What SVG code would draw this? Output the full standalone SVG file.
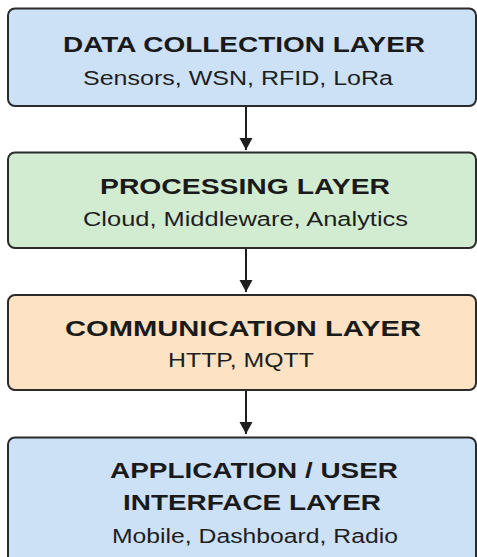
<svg xmlns="http://www.w3.org/2000/svg" width="477" height="557" viewBox="0 0 477 557">
  <defs>
    <marker id="ah" markerWidth="14" markerHeight="14" refX="12" refY="7" orient="auto" markerUnits="userSpaceOnUse">
      <path d="M0,0.5 L12,7 L0,13.5 Z" fill="#1e1e1e"/>
    </marker>
    <style>
      .box { stroke: #2b2b2b; stroke-width: 2; }
      .blue { fill: #cde1f6; }
      .green { fill: #d2ecd1; }
      .peach { fill: #fde3c3; }
      .t { font-family: "Liberation Sans", Arial, sans-serif; font-weight: bold; font-size: 22px; fill: #1a1a1a; }
      .s { font-family: "Liberation Sans", Arial, sans-serif; font-size: 20px; fill: #1e1e1e; }
      .c { stroke: #1e1e1e; stroke-width: 2; fill: none; }
    </style>
  </defs>
  <rect width="477" height="557" fill="#ffffff"/>

  <g id="connectors">
    <line class="c" x1="246" y1="106" x2="246" y2="150" marker-end="url(#ah)"/>
    <line class="c" x1="246" y1="248" x2="246" y2="292" marker-end="url(#ah)"/>
    <line class="c" x1="246" y1="390" x2="246" y2="434" marker-end="url(#ah)"/>
  </g>

  <g id="data-collection">
    <rect class="box blue" x="8" y="8.5" width="468" height="97.5" rx="7"/>
    <text class="t" x="63" y="52" textLength="362" lengthAdjust="spacingAndGlyphs">DATA COLLECTION LAYER</text>
    <text class="s" x="83" y="84.5" textLength="310" lengthAdjust="spacingAndGlyphs">Sensors, WSN, RFID, LoRa</text>
  </g>

  <g id="processing">
    <rect class="box green" x="8" y="152.5" width="468" height="95.5" rx="7"/>
    <text class="t" x="100" y="194" textLength="290" lengthAdjust="spacingAndGlyphs">PROCESSING LAYER</text>
    <text class="s" x="83" y="226" textLength="325" lengthAdjust="spacingAndGlyphs">Cloud, Middleware, Analytics</text>
  </g>

  <g id="communication">
    <rect class="box peach" x="8" y="295" width="468" height="95" rx="7"/>
    <text class="t" x="65" y="335.5" textLength="356" lengthAdjust="spacingAndGlyphs">COMMUNICATION LAYER</text>
    <text class="s" x="168" y="366.5" textLength="146" lengthAdjust="spacingAndGlyphs">HTTP, MQTT</text>
  </g>

  <g id="application">
    <rect class="box blue" x="8" y="437.5" width="468" height="130" rx="7"/>
    <text class="t" x="110" y="477.5" textLength="288" lengthAdjust="spacingAndGlyphs">APPLICATION / USER</text>
    <text class="t" x="123" y="510" textLength="258" lengthAdjust="spacingAndGlyphs">INTERFACE LAYER</text>
    <text class="s" x="112" y="543" textLength="286" lengthAdjust="spacingAndGlyphs">Mobile, Dashboard, Radio</text>
  </g>
</svg>
